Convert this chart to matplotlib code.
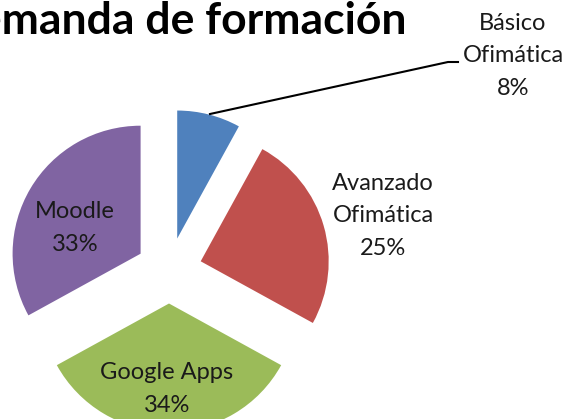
import numpy as np
import matplotlib.pyplot as plt

# datos del grafico (demanda de formacion)
labels = ["Básico\nOfimática", "Avanzado\nOfimática", "Google Apps", "Moodle"]
pct = [8, 25, 34, 33]
colors = ["#4F81BD", "#C0504D", "#9BBB59", "#8064A2"]

W, H = 568, 419
fig = plt.figure(figsize=(W / 100, H / 100), dpi=100)
ax = fig.add_axes([0, 0, 1, 1])

# centro y radio en pixeles (y hacia arriba); explode va en pixeles tambien
cx, cy, R = 169, H - 270.5, 128
wedges, _ = ax.pie(pct, colors=colors, center=(cx, cy), radius=R,
                   explode=[33] * 4, startangle=90, counterclock=False,
                   frame=True, wedgeprops=dict(linewidth=0))
ax.set_xlim(0, W)
ax.set_ylim(0, H)
ax.set_aspect("equal")
ax.axis("off")

fnt = dict(family="Lato", fontsize=17, color="#1a1a1a", linespacing=1.7)

# el titulo queda cortado por la izquierda como en la imagen original
ax.text(406, H - 21, "Demanda de formación", ha="right", va="center",
        family="Lato", fontsize=32, fontweight="bold")

txt = [f"{l}\n{p}%" for l, p in zip(labels, pct)]
ax.text(513, H - 56, txt[0], ha="center", va="center", **fnt)
ax.text(383, H - 216, txt[1], ha="center", va="center", **fnt)
ax.text(167, H - 389, txt[2], ha="center", va="center", **fnt)
ax.text(75, H - 228, txt[3], ha="center", va="center", **fnt)

# linea guia de Basico
ax.plot([210, 448, 458], [H - 114, H - 62, H - 62], color="black", lw=1.5)

fig.savefig("out.png", dpi=100)
